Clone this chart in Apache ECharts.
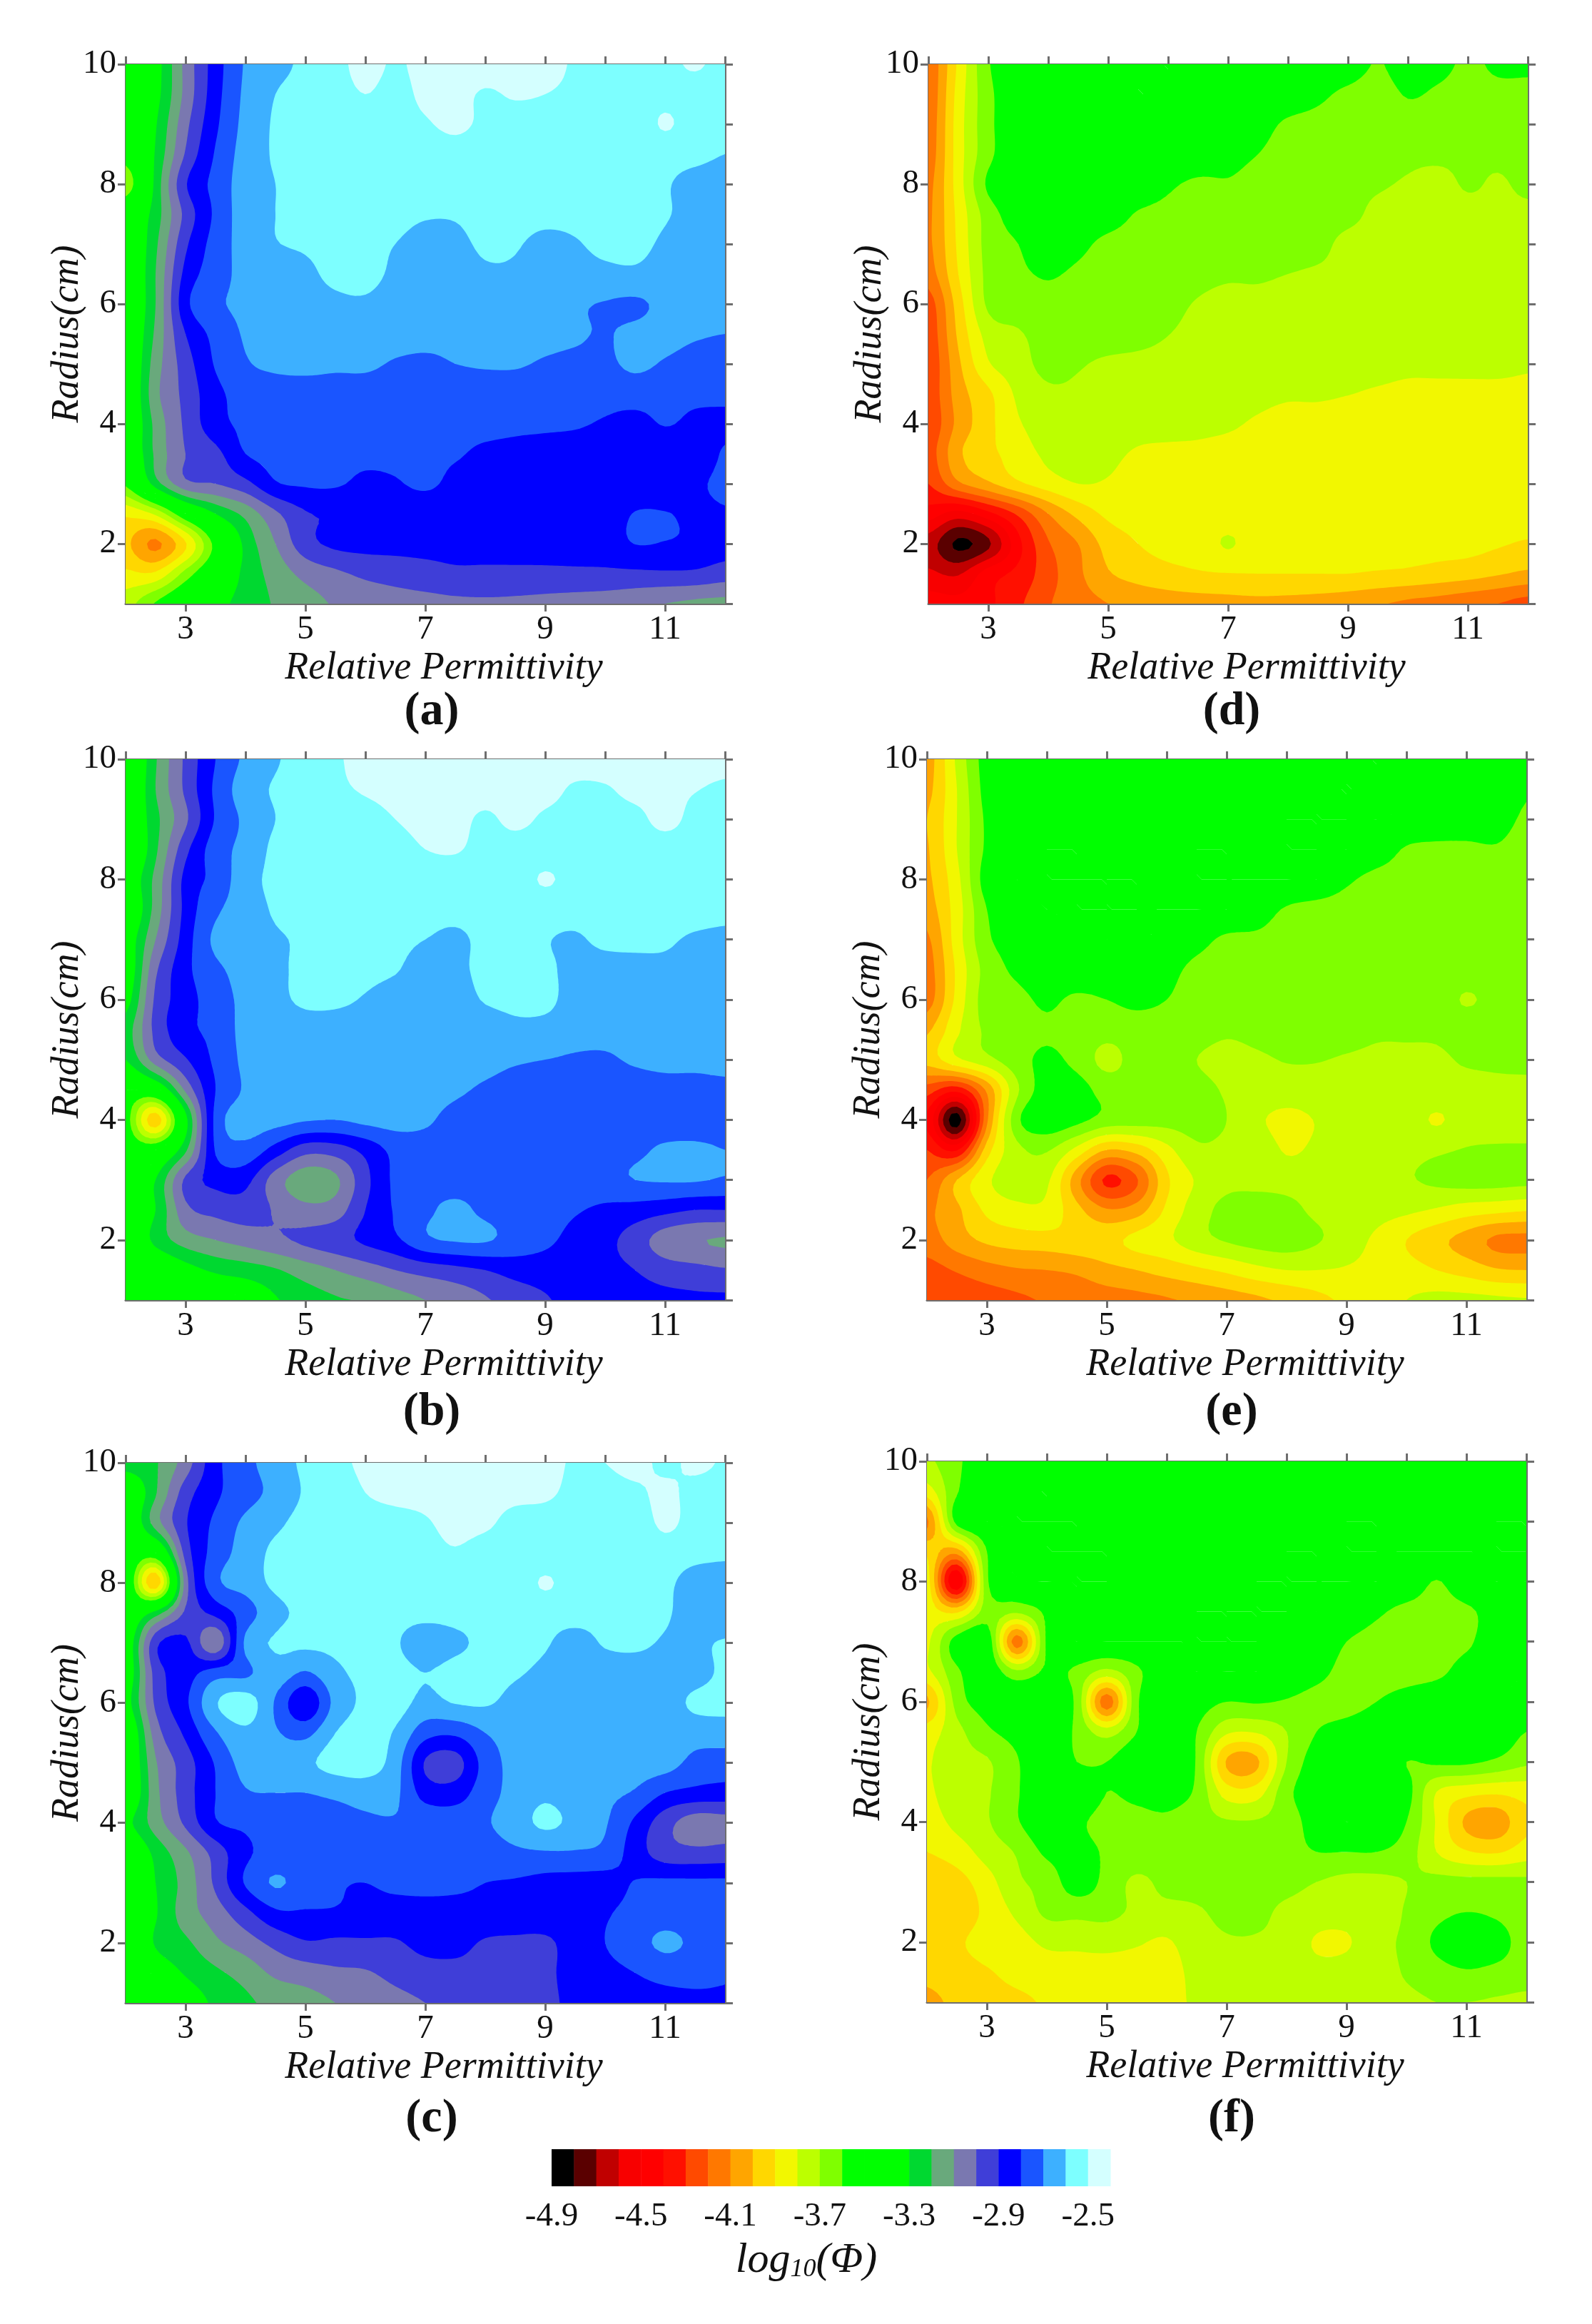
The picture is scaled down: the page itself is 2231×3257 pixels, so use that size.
<!DOCTYPE html>
<html><head><meta charset="utf-8">
<style>html,body{margin:0;padding:0;background:#fff}#c{width:2231px;height:3257px}</style>
<script src="https://cdn.jsdelivr.net/npm/echarts@6/dist/echarts.min.js"></script>
</head><body><div id="c"></div>
<script>
// log10(Phi) x 100. Columns: permittivity 2,2.5,...,12. Rows: radius 10,9.5,...,1.
const permittivity=[2,2.5,3,3.5,4,4.5,5,5.5,6,6.5,7,7.5,8,8.5,9,9.5,10,10.5,11,11.5,12];
const radius=[10,9.5,9,8.5,8,7.5,7,6.5,6,5.5,5,4.5,4,3.5,3,2.5,2,1.5,1];
const panelA=[
[-350,-335,-307,-285,-269,-263,-258,-253,-247,-251,-247,-245,-245,-246,-247,-251,-253,-250,-252,-249,-253],
[-350,-334,-307,-284,-268,-260,-257,-254,-250,-253,-248,-247,-251,-249,-250,-252,-254,-254,-253,-254,-255],
[-352,-331,-303,-282,-267,-259,-257,-256,-255,-254,-251,-248,-252,-254,-254,-255,-256,-256,-249,-255,-257],
[-354,-329,-299,-279,-266,-259,-257,-256,-256,-255,-255,-254,-255,-255,-255,-256,-256,-256,-256,-257,-260],
[-368,-327,-291,-277,-265,-260,-258,-257,-257,-257,-256,-256,-256,-256,-256,-256,-257,-257,-259,-264,-266],
[-345,-325,-297,-278,-265,-260,-258,-257,-257,-257,-259,-259,-256,-256,-257,-257,-256,-256,-259,-264,-266],
[-345,-322,-292,-276,-266,-260.5,-259,-258,-258,-260,-264,-263,-258,-259,-263,-261,-257,-257,-262,-267,-268],
[-345,-320,-287,-275,-267,-266,-262,-258,-257,-262,-266,-266,-262,-262,-266,-265,-263,-262,-265,-268,-268],
[-345,-320,-283,-272,-268,-266,-264,-262,-261.5,-265,-267,-268,-267,-267,-268,-269,-270.5,-271.5,-268,-268,-269],
[-345,-318,-290,-277,-269,-267,-266,-265,-265,-266,-267,-268,-268,-268,-268,-269,-270.5,-268,-267,-269,-270],
[-345,-315,-295,-279,-271,-268,-267,-268,-268,-271,-272,-270,-269,-269,-271,-272,-272,-268,-271,-274,-275],
[-345,-313,-297,-283,-276,-275,-275,-275,-275,-276,-276,-276,-276,-276,-277,-277,-277,-276,-277,-278,-278],
[-345,-317,-298,-284,-278,-277,-276,-276,-276,-276,-276,-277,-277,-278,-278.5,-279,-281,-283,-279.5,-282,-282],
[-345,-318,-300,-293,-280,-278,-278,-278,-278,-278,-278,-279,-282,-283,-284,-285,-286,-287,-286,-286,-279],
[-358,-325,-303,-300,-293,-281,-279,-279,-282,-281,-278,-283,-285,-286,-287,-288,-288,-288,-288,-282,-278],
[-388,-378,-350,-330,-317,-302,-291,-289,-288,-288,-288,-288,-288,-288,-288,-287,-286,-279.5,-279.5,-282,-281],
[-398,-412,-391,-356,-327,-310,-294,-288,-287,-287,-287,-287,-287,-287,-287,-286,-285,-279.8,-280.5,-282,-285],
[-388,-388,-366,-345,-327,-316,-307,-302,-298,-296,-294,-292,-292,-292,-292,-292,-292,-292,-291.5,-292,-295],
[-374,-359,-345,-334,-326,-319,-314,-309,-306,-304,-303,-302,-301.5,-302,-303,-304,-305,-307,-310,-312,-313]];
const panelB=[
[-350,-321,-298,-280,-268,-261,-256,-251,-248,-247,-246,-245,-245,-245,-245,-245,-245,-245,-245,-245,-246],
[-348,-320,-298,-278,-265,-259,-256,-252,-249,-247,-245,-245,-245,-245,-246,-251.5,-251,-247,-247,-249.5,-252],
[-345,-323,-302,-279,-268,-260,-257,-256,-254,-250,-246,-246,-252,-247,-252,-254,-254,-253,-247,-253,-254],
[-348,-322,-293,-275,-267,-258,-257,-257,-256,-255,-250,-249,-254,-255,-255,-255,-255,-255,-255,-255,-255],
[-340,-317,-287,-277,-264,-258,-257,-257,-257,-256,-256,-256,-256,-255,-249,-254,-256,-256,-256,-256,-256],
[-345,-316,-287,-272,-265,-259,-258,-257,-257,-257,-257,-257,-256,-256,-256,-257,-257,-257,-257,-257,-258],
[-338,-310,-285,-268,-265,-261,-259,-257,-257,-257,-260,-262,-257.5,-257,-259.5,-261,-258,-258,-259,-261,-262],
[-340,-302,-283,-272,-267,-262,-258,-257,-257,-259,-266,-263,-257,-256,-258,-263,-264,-263,-262,-263,-267],
[-335,-298,-285,-274,-268,-263,-258,-258,-261,-266,-268,-266,-259,-257,-257,-265,-267,-267,-267,-267,-268],
[-325,-297,-283,-277,-267,-266,-265,-265,-266,-268,-268,-268,-267,-263,-264,-267,-268,-268,-268,-268,-269],
[-330,-305,-291,-278,-268,-266,-266,-266,-267,-267,-268,-268,-268,-269,-270,-271,-271,-269,-268,-268,-268],
[-350,-344,-308,-280,-269,-267,-267,-267,-267,-268,-268,-269,-271,-273,-275,-275,-275,-274,-273,-273,-272],
[-355,-396,-334,-277,-266.5,-266.5,-269,-270,-267.5,-266.5,-269,-272,-274,-275,-276,-277,-276,-276,-276,-276,-276],
[-350,-350,-322,-279,-273,-284,-296,-295,-287,-277,-273,-273,-274,-275,-275,-275,-274,-272,-268.5,-268,-270],
[-345,-330,-298,-287,-287,-305,-316,-312,-293,-278,-274,-274,-274,-274,-274,-274,-273,-270,-269,-269,-271],
[-345,-330,-303,-297,-295,-301,-307,-305,-290,-279,-272,-268,-272,-275,-276,-279,-282,-284,-287,-290,-290],
[-345,-327,-315,-310,-306,-302,-298,-294,-288,-282,-272,-269,-269,-274,-278,-283,-287,-295,-305,-309,-311],
[-350,-345,-335,-328,-325,-321,-315,-310,-305,-300,-296,-293,-290,-286,-285,-285,-287,-290,-295,-297,-299],
[-355,-352,-349,-344,-340,-331,-325,-321,-319,-314,-310,-306,-301,-296,-291,-287,-286,-286,-287,-288,-288]];
const panelC=[
[-325,-321,-305,-283,-273,-265,-258,-253,-248,-247,-246,-245,-245,-246,-247,-251,-250,-247,-252,-248,-251],
[-345,-321,-295,-282,-274,-267,-259,-256,-250,-247,-247,-246,-246,-247,-248,-253,-254,-252,-248,-253,-254],
[-345,-315,-291,-278,-268,-262,-257,-256,-255,-254,-251,-247,-248,-254,-255,-256,-256,-256,-248,-254,-256],
[-345,-350,-296,-276,-266,-258,-257,-257,-256,-256,-254,-251,-255,-256,-256,-256,-256,-257,-255,-257,-258],
[-345,-398,-305,-273,-266,-258,-257,-257,-257,-257,-257,-257,-257,-256,-249,-255,-256,-256,-258,-264,-266],
[-345,-326,-298,-287,-275,-263,-258,-257,-257,-257,-257,-257,-257,-256,-256,-256,-257,-257,-259,-264,-268],
[-340,-293,-288,-308,-268,-259,-258,-258,-257,-259,-266,-262,-258,-257,-259,-264,-259,-258,-261,-262,-259],
[-340,-296,-285,-275,-272,-264,-271,-262,-258,-257,-260,-257,-257,-259,-262,-265,-265,-265,-265,-264,-258],
[-335,-298,-282,-261,-255,-271,-288,-267,-258,-256,-263,-259.5,-259,-263,-265,-266,-266,-266,-265,-258,-257],
[-345,-305,-288,-271,-262,-269,-273,-260,-256,-261,-276,-278,-270,-266,-266,-266,-266,-266,-266,-266,-265],
[-345,-311,-295,-279,-266,-265,-262,-256,-255,-265,-291,-294,-276,-267,-266,-266,-266,-266,-266,-273,-275],
[-345,-313,-295,-280,-271,-270,-270,-268,-266,-268,-284,-285,-274,-267,-262,-266,-268,-271,-280,-283,-284],
[-333,-315,-298,-281,-278,-276,-275,-274,-272,-271,-273,-274,-271,-265,-258,-263,-269,-282,-296,-305,-304],
[-345,-327,-312,-296,-282,-277,-277,-277,-277,-276,-276,-276,-275,-272,-271,-271,-273,-285,-295,-297,-296],
[-345,-330,-316,-298,-279,-269,-275,-279,-280,-278,-277,-278,-280,-281,-283,-284,-284,-279.5,-278,-278,-278],
[-345,-331,-315,-305,-293,-282,-281,-281,-283,-284,-284,-283.5,-283,-283,-283,-284,-281,-277,-275,-276,-276],
[-345,-329,-322,-312,-305,-297,-291,-292,-291.5,-291,-287,-287,-291,-292,-292,-285,-280,-274,-268,-272,-275],
[-350,-338,-329,-322,-316,-308,-305,-302,-301,-297,-294,-293,-293,-293,-292,-286,-283,-280,-277,-277,-279],
[-350,-345,-337,-328,-322,-317,-314,-310,-307,-303,-300,-298,-296,-295,-292,-288,-286,-284,-283,-282,-281]];
const panelD=[
[-418,-388,-361,-352,-350,-350,-350,-350,-350,-350,-350,-350,-350,-350,-352,-361,-352,-356,-362,-358,-358],
[-418,-386,-363,-352,-350,-350,-350,-350,-350,-350,-350,-350,-352,-357,-363,-366,-359,-362,-365,-363,-363],
[-417,-385,-363,-352,-350,-350,-350,-350,-350,-351,-352,-355,-362,-364,-366,-366,-365,-365,-365,-365,-365],
[-416,-385,-363,-352,-350,-350,-350,-350,-350,-352,-356,-360,-365,-366,-367,-367,-368,-368,-368,-368,-367],
[-413,-385,-358,-352,-351,-351,-351,-352,-358,-362,-361,-364,-366,-367,-368,-369,-371,-373,-369,-371,-368],
[-412,-387,-365,-355,-352,-352,-354,-361,-363,-364,-365,-366,-366,-367,-368,-372,-374,-374,-373,-372,-372],
[-412,-388,-366,-360,-353,-357,-363,-365,-366,-366,-366,-367,-367,-368,-372,-373,-374,-374,-374,-373,-373],
[-415,-390,-367,-362,-359,-362,-365,-366,-367,-368,-369,-369,-370,-371,-372,-373,-374,-374,-375,-374,-374],
[-425,-395,-368,-365,-363,-364,-364,-365,-368,-370.5,-372,-372,-373,-373.5,-374,-374,-375,-375,-375,-375,-375],
[-427,-398,-376,-371,-366,-364,-364,-366,-369.8,-372,-373,-373,-374,-374,-375,-375,-375,-375,-376,-376,-376],
[-428,-402,-381,-374,-367,-369,-372,-373,-374,-375,-376,-376,-377,-377,-377,-377,-378,-378,-378,-378,-379],
[-427,-405,-392,-378,-372,-372,-374,-375,-376,-377,-378,-378,-379,-379,-379.8,-381,-382,-382,-382,-382,-382],
[-428,-407,-393,-381,-376,-375,-376,-377,-377,-378,-379,-381,-383,-383,-384,-384,-384,-384,-384,-384,-384],
[-425,-402,-393,-385,-378,-376,-378,-381,-382,-382,-383,-384,-385,-385,-385,-385,-385,-385,-385,-385,-385],
[-430,-412,-402,-392,-385,-380,-381,-384,-385,-385,-386,-386,-386,-386,-386,-386,-386,-386,-386,-386,-386],
[-445,-454,-443,-428,-410,-397,-388,-387,-387,-387,-386,-387,-387,-387,-387,-387,-387,-387,-387,-387,-387],
[-465,-482,-472,-443,-421,-410,-396,-390,-387,-386,-379,-386,-386.5,-387,-387,-387,-387,-387,-387,-389,-391],
[-458,-461,-445,-437,-424,-412,-401,-396,-393,-391,-390.3,-390,-390,-390,-390,-391,-392,-394,-396,-399,-402],
[-445,-447,-442,-432,-421,-414,-410,-407,-405,-404,-403,-402.5,-403,-404,-406,-409,-412,-414,-417,-420,-424]];
const panelE=[
[-405,-378,-355,-350,-350,-350,-350,-350,-350,-350,-350,-350,-350,-350,-350,-350,-350,-350,-350,-350,-350],
[-403,-380,-356,-350,-350,-350,-350,-350,-350,-350,-350,-350,-350,-350,-350,-350,-350,-350,-350,-351,-358],
[-400,-380,-358,-350,-350,-350,-350,-350,-350,-350,-350,-350,-350,-350,-350,-350,-351,-352,-354,-355,-362],
[-401,-380,-358,-350,-350,-350,-350,-350,-350,-350,-350,-350,-350,-350,-350,-354,-361,-362.5,-362,-361,-365],
[-402,-383,-355,-350,-350,-350,-350,-350,-350,-350,-350,-350,-350,-350,-358,-363,-364,-365,-365,-365,-366],
[-405,-385,-360,-352,-350,-350,-350,-350,-350,-350,-350,-355,-361,-364,-365,-365,-366,-366,-366,-366,-366],
[-412,-385,-362,-356,-352,-350,-350,-350,-351,-356,-362,-362,-364,-365,-366,-366,-367,-367,-367,-367,-367],
[-415,-388,-366,-358,-352,-351,-351,-351,-356,-363,-365,-366,-367,-367,-367,-367,-367,-367,-367,-367,-367],
[-415,-387,-365,-363,-358,-362,-360,-357,-360,-365,-366,-367,-367,-367,-367,-367,-367,-367,-370.5,-368,-367],
[-402,-382,-368,-365,-361.5,-364,-366,-365,-365,-366,-368.5,-367,-365.5,-365,-366,-368.5,-368.5,-368.5,-367,-367,-366],
[-396,-382,-373,-364,-358,-363,-373,-366,-365,-370,-373,-371.5,-369.5,-369.5,-371,-372,-372,-371.5,-369,-368.5,-368],
[-425,-436,-408,-372,-355,-356,-364,-366,-367,-367,-371,-373,-374,-374,-374,-374,-373,-373,-373,-372,-372],
[-442,-485,-412,-363,-353,-357,-364,-365.5,-366.5,-366,-370,-378,-383,-379.5,-376,-376,-375,-381,-375,-374,-374],
[-430,-441,-395,-373,-369,-383,-400,-396,-383,-372,-372,-373,-381,-378,-374,-374,-373,-371.5,-369.5,-369,-369],
[-420,-400,-382,-374,-378,-406,-432,-421,-392,-379,-373,-373,-374,-374,-373,-373,-371,-368,-366,-366,-367],
[-412,-402,-388,-383,-383,-397,-409,-405,-388,-375,-367,-365,-367,-372,-374,-376,-378,-381,-385,-387,-389],
[-415,-405,-398,-395,-394,-393,-393,-387,-382,-374,-369,-366,-365,-369,-375,-382,-390,-397,-404,-412,-413],
[-424,-419,-414,-411,-410,-408,-403,-400,-396,-392,-388,-383,-380,-380,-381,-383,-386,-390,-394,-399,-400],
[-430,-428,-425,-422,-419,-417,-415,-413,-411,-408,-405,-402,-398,-393,-388,-384,-380,-377,-377,-378,-379]];
const panelF=[
[-372,-362,-352,-350,-350,-350,-350,-350,-350,-350,-350,-350,-350,-350,-350,-350,-350,-350,-350,-350,-350],
[-385,-361,-350,-350,-350,-350,-350,-350,-350,-350,-350,-350,-350,-350,-350,-350,-350,-350,-350,-350,-350],
[-412,-356,-350,-350,-350,-350,-350,-350,-350,-350,-350,-350,-350,-350,-350,-350,-350,-350,-350,-350,-350],
[-392,-405,-360,-350,-350,-350,-350,-350,-350,-350,-350,-350,-350,-350,-350,-350,-350,-350,-350,-350,-350],
[-385,-450,-362,-351,-350,-350,-350,-350,-350,-350,-350,-350,-350,-350,-350,-350,-352,-360.5,-352,-350,-350],
[-385,-392,-365,-368,-358,-350,-350,-350,-350,-350,-350,-350,-350,-350,-352,-358,-363,-364,-362,-355,-351],
[-382,-355,-352,-415,-358,-350,-350,-350,-350,-350,-350,-350,-350,-351,-360,-364,-365,-365,-362,-353,-351],
[-382,-362,-352,-368,-358,-362,-373,-362,-352,-350,-350,-350,-351,-356,-364,-365,-365,-363,-355,-352,-350],
[-402,-366,-355,-350,-350,-363,-416,-362,-352,-355,-360,-359,-361,-364,-365,-360,-355,-351,-350,-350,-350],
[-385,-373,-362,-356,-351,-362,-375,-360,-352,-360,-378,-379,-370,-360,-355,-351,-351,-351,-351,-352,-360],
[-381,-373,-371,-361,-350,-360,-360,-352,-350,-361,-401,-402,-370,-355,-350,-350,-360,-358,-358,-362,-368],
[-382,-373,-371,-361,-351,-352,-360,-357,-355,-362,-385,-385,-363,-354,-350,-350,-356,-380,-386,-388,-386],
[-385,-377,-371,-361,-352,-358,-363,-363,-362,-366,-369,-369,-365,-355,-350,-351,-360,-381,-402,-406,-392],
[-390,-385,-376,-369,-358,-357,-361,-363,-364,-365,-365,-365,-364,-360,-360,-360,-365,-380,-389,-391,-385],
[-397,-394,-384,-372,-366,-355,-363,-372,-367,-367,-367,-367,-367,-370,-373,-373,-370,-367,-367,-367,-368],
[-398,-398,-387,-378,-368,-367,-367,-372,-373,-371,-368,-368,-372,-375,-376,-376,-369,-363,-360,-362,-367],
[-397,-392,-385,-384,-378,-378,-377,-379,-381,-374,-371,-371,-373,-381,-381,-373,-368,-358,-352,-355,-365],
[-398,-395,-391,-387,-385,-383,-384,-384,-384,-377,-375,-375,-375,-377,-376,-374,-369,-364,-361,-363,-366],
[-402,-398,-394,-392,-389,-387,-386,-385,-382,-379,-376,-375,-375,-374,-374,-373,-372,-370,-370,-371,-372]];
const bandColors=['#000000','#5a0000','#c00000','#f80000','#ff0000','#ff1000','#ff4a00','#ff7800','#ffa500','#ffd700','#f2f700','#bcff00','#7fff00','#00ff00','#00ff00','#00ff00','#00d830','#69a97c','#7a78b0','#3f3ed8','#0000ff','#1a55ff','#3db0ff','#7dffff','#d4ffff'];
const legendLabels=[-4.9,-4.5,-4.1,-3.7,-3.3,-2.9,-2.5];
const xLabelTicks=[3,5,7,9,11];
const yLabelTicks=[2,4,6,8,10];
const xAllTicks=[2,3,4,5,6,7,8,9,10,11,12];
const yAllTicks=[1,2,3,4,5,6,7,8,9,10];
const panelNames=['(a)','(b)','(c)','(d)','(e)','(f)'];
const panelData=[panelA,panelB,panelC,panelD,panelE,panelF];

const boxes=[[176,90,840,756],[176,1064,840,758],[176,2050,840,757],[1301,90,840,756],[1299,1064,840,758],[1299,2048,840,758]];
const captionX=[600,600,600,1721,1721,1721];
const captionY=[960,1942,2932,960,1942,2932];
const SERIF='"Liberation Serif","Times New Roman",serif';
const AXIS='#6e6e6e';

echarts.graphic.registerShape('contourBand',echarts.graphic.extendShape({
  type:'contourBand',
  shape:{pts:null,counts:null},
  buildPath(ctx,s){
    if(!s.pts)return;let p=0;
    for(const n of s.counts){
      ctx.moveTo(s.pts[p],s.pts[p+1]);
      for(let i=1;i<n;i++)ctx.lineTo(s.pts[p+2*i],s.pts[p+2*i+1]);
      ctx.closePath();p+=2*n;
    }
  }
}));

const S=6;
function cr(a,b,c,d,t){return 0.5*(2*b+(c-a)*t+(2*a-5*b+4*c-d)*t*t+(3*b-a-3*c+d)*t*t*t);}
function refine(line){
  const out=[],n=line.length;
  for(let i=0;i<n-1;i++){
    const a=line[Math.max(i-1,0)],b=line[i],c=line[i+1],d=line[Math.min(i+2,n-1)];
    for(let k=0;k<S;k++)out.push(cr(a,b,c,d,k/S));
  }
  out.push(line[n-1]);return out;
}
function surface(rows){
  const h=rows.map(refine),w=h[0].length,cols=[];
  for(let c=0;c<w;c++)cols.push(refine(h.map(r=>r[c])));
  return cols;
}
function clip(tri,L){
  const out=[];
  for(let i=0;i<tri.length;i++){
    const A=tri[i],B=tri[(i+1)%tri.length];
    const ai=A[2]>=L,bi=B[2]>=L;
    if(ai)out.push(A);
    if(ai!==bi){const t=(L-A[2])/(B[2]-A[2]);out.push([A[0]+(B[0]-A[0])*t,A[1]+(B[1]-A[1])*t,L]);}
  }
  return out;
}
function buildBands(rows){
  const f=surface(rows),nc=f.length,nr=f[0].length;
  const dx=(permittivity[20]-permittivity[0])/(nc-1),dy=(radius[0]-radius[18])/(nr-1);
  const bands=bandColors.map(()=>({pts:[],counts:[]}));
  const lev=k=>-490+10*k;
  function add(tri){
    const vs=tri.map(v=>v[2]);const mn=Math.min(...vs),mx=Math.max(...vs);
    for(let k=0;k<bands.length;k++){
      const L=k===0?-Infinity:lev(k),N=k===bands.length-1?Infinity:lev(k+1);
      if(mx<L)break;
      if(mn>=N)continue;
      const poly=mn>=L?tri:clip(tri,L);
      if(poly.length<3)continue;
      for(const v of poly)bands[k].pts.push(v[0],v[1]);
      bands[k].counts.push(poly.length);
    }
  }
  for(let c=0;c<nc-1;c++)for(let r=0;r<nr-1;r++){
    const P=(cc,rr)=>[permittivity[0]+cc*dx,radius[0]-rr*dy,f[cc][rr]];
    const a=P(c,r),b=P(c+1,r),d=P(c+1,r+1),e=P(c,r+1);
    add([a,b,d]);add([a,d,e]);
  }
  return bands;
}

const grid=[],xAxis=[],yAxis=[],series=[],title=[];
const tickFont={fontFamily:SERIF,fontSize:47,color:'#111'};
panelData.forEach((rows,pi)=>{
  const [l,t,w,h]=boxes[pi];
  grid.push({left:l,top:t,width:w,height:h,containLabel:false,show:false});
  const base=xAxis.length;
  const line={show:true,onZero:false,lineStyle:{color:AXIS,width:3}};
  xAxis.push({type:'value',gridIndex:pi,position:'bottom',min:2,max:12,axisLine:line,splitLine:{show:false},
    axisTick:{show:true,length:11,lineStyle:{color:AXIS,width:3},customValues:xLabelTicks},
    axisLabel:{show:true,margin:13,customValues:xLabelTicks,...tickFont},
    name:'Relative Permittivity',nameLocation:'middle',nameGap:64,
    nameTextStyle:{fontFamily:SERIF,fontStyle:'italic',fontSize:54,color:'#111',padding:[0,0,0,52]}});
  xAxis.push({type:'value',gridIndex:pi,position:'top',min:2,max:12,axisLine:line,splitLine:{show:false},
    axisTick:{show:true,length:11,lineStyle:{color:AXIS,width:3},customValues:xAllTicks},
    axisLabel:{show:false}});
  yAxis.push({type:'value',gridIndex:pi,position:'left',min:1,max:10,axisLine:line,splitLine:{show:false},
    axisTick:{show:true,length:11,lineStyle:{color:AXIS,width:3},customValues:yLabelTicks},
    axisLabel:{show:true,margin:13,customValues:yLabelTicks,...tickFont},
    name:'Radius(cm)',nameLocation:'middle',nameGap:54,nameRotate:90,nameMoveOverlap:false,
    nameTextStyle:{fontFamily:SERIF,fontStyle:'italic',fontSize:54,color:'#111'}});
  yAxis.push({type:'value',gridIndex:pi,position:'right',min:1,max:10,axisLine:line,splitLine:{show:false},
    axisTick:{show:true,length:11,lineStyle:{color:AXIS,width:3},customValues:yAllTicks},
    axisLabel:{show:false}});
  const bands=buildBands(rows);
  series.push({type:'custom',coordinateSystem:'cartesian2d',xAxisIndex:base,yAxisIndex:base,silent:true,clip:false,animation:false,z:1,
    encode:{x:0,y:1},
    data:bands.map((b,k)=>[permittivity[0],radius[18],k]),
    renderItem(params,api){
      const k=api.value(2),b=bands[k];
      if(!b.counts.length)return {type:'group',children:[]};
      const pts=new Array(b.pts.length);
      for(let i=0;i<b.pts.length;i+=2){const q=api.coord([b.pts[i],b.pts[i+1]]);pts[i]=q[0];pts[i+1]=q[1];}
      return {type:'contourBand',silent:true,shape:{pts,counts:b.counts},style:{fill:bandColors[k]}};
    }});
  title.push({text:panelNames[pi],left:captionX[pi],top:captionY[pi],textAlign:'center',
    textStyle:{fontFamily:SERIF,fontWeight:'bold',fontSize:66,color:'#111'}});
});

// colour legend
const lg=panelData.length,lgAxis=xAxis.length;
grid.push({left:773,top:3012,width:783,height:52,show:false});
xAxis.push({type:'value',gridIndex:lg,min:-4.9,max:-2.4,axisLine:{show:false},axisTick:{show:false},splitLine:{show:false},
  axisLabel:{show:true,margin:19,customValues:legendLabels,formatter:v=>Number(v).toFixed(1),...tickFont}});
yAxis.push({type:'value',gridIndex:lg,min:0,max:1,show:false});
series.push({type:'custom',coordinateSystem:'cartesian2d',xAxisIndex:lgAxis,yAxisIndex:lgAxis,silent:true,animation:false,
  encode:{x:0,y:1},
  data:bandColors.map((c,i)=>[-4.9+0.1*i,0,i]),
  renderItem(params,api){
    const v=api.value(0),a=api.coord([v,0]),b=api.coord([v+0.1,1]);
    return {type:'rect',shape:{x:a[0],y:b[1],width:b[0]-a[0]+0.5,height:a[1]-b[1]},style:{fill:bandColors[api.value(2)]}};
  }});
title.push({text:'{m|log}{s|10}{m|(Φ)}',left:1125,top:3132,textAlign:'center',
  textStyle:{fontWeight:'normal',rich:{m:{fontFamily:SERIF,fontStyle:'italic',fontWeight:'normal',fontSize:60,color:'#111'},
    s:{fontFamily:SERIF,fontStyle:'italic',fontWeight:'normal',fontSize:36,color:'#111',padding:[26,0,0,0]}}}});

const chart=echarts.init(document.getElementById('c'),null,{width:2231,height:3257,renderer:'canvas'});
chart.setOption({animation:false,backgroundColor:'#fff',grid,xAxis,yAxis,series,title});
</script></body></html>
